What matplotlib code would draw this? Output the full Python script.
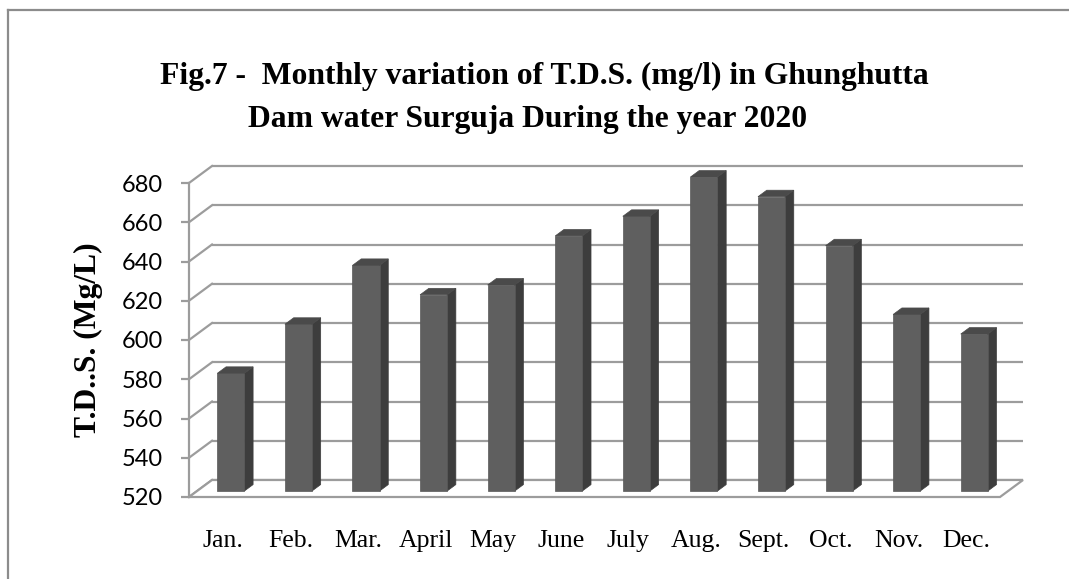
import matplotlib
matplotlib.use("Agg")
import matplotlib.pyplot as plt
from matplotlib.patches import Polygon
from matplotlib.lines import Line2D

# ---- data ----
months = ["Jan.", "Feb.", "Mar.", "April", "May", "June", "July", "Aug.",
          "Sept.", "Oct.", "Nov.", "Dec."]
tds = [580, 605, 635, 620, 625, 650, 660, 680, 670, 645, 610, 600]
yticks = [520, 540, 560, 580, 600, 620, 640, 660, 680]
title_line1 = "Fig.7 -  Monthly variation of T.D.S. (mg/l) in Ghunghutta"
title_line2 = "Dam water Surguja During the year 2020"
ylabel = "T.D..S. (Mg/L)"

W, H = 1069, 579
fig = plt.figure(figsize=(W / 100, H / 100), dpi=100)
fig.patch.set_facecolor("white")

# axes = front plane of the 3D box
ax_l, ax_r, ax_t, ax_b = 189, 1000, 183, 497
ax = fig.add_axes([ax_l / W, 1 - ax_b / H, (ax_r - ax_l) / W, (ax_b - ax_t) / H])
ymin, ymax = yticks[0], yticks[-1]
n = len(months)
ax.set_xlim(-0.5, n - 0.5)
ax.set_ylim(ymin, ymax)
ax.set_facecolor("none")

# depth vector (pixels) converted into data units
DXP, DYP = 23.0, 17.0
DX = DXP / ((ax_r - ax_l) / n)
DY = DYP / ((ax_b - ax_t) / (ymax - ymin))

grid_c = "#9c9c9c"
# back-wall gridlines and left-wall diagonals
for v in yticks:
    ax.plot([-0.5 + DX, n - 0.5 + DX], [v + DY, v + DY], color=grid_c, lw=1.6,
            clip_on=False, zorder=1, solid_capstyle="butt")
    ax.plot([-0.5, -0.5 + DX], [v, v + DY], color=grid_c, lw=1.6,
            clip_on=False, zorder=1)
# floor
floor = Polygon([(-0.5, ymin), (n - 0.5, ymin), (n - 0.5 + DX, ymin + DY),
                 (-0.5 + DX, ymin + DY)], closed=True, facecolor="white",
                edgecolor=grid_c, lw=1.6, clip_on=False, zorder=1.5)
ax.add_patch(floor)

# bars
f0, f1 = 0.35, 0.73
bw = 0.4
front_c, side_c, top_c = "#5f5f5f", "#3d3d3d", "#4a4a4a"
xs = [i + f0 * DX for i in range(n)]
base = ymin + f0 * DY
heights = [v - ymin for v in tds]
ax.bar(xs, heights, width=bw, bottom=base, color=front_c, edgecolor="#585858",
       lw=0.5, zorder=3, clip_on=False)
ddx, ddy = (f1 - f0) * DX, (f1 - f0) * DY
for x, v in zip(xs, tds):
    xl, xr = x - bw / 2, x + bw / 2
    t = v + f0 * DY
    side = Polygon([(xr, base), (xr + ddx, base + ddy), (xr + ddx, t + ddy), (xr, t)],
                   closed=True, facecolor=side_c, edgecolor=side_c, lw=0.5,
                   zorder=2.9, clip_on=False)
    top = Polygon([(xl, t), (xr, t), (xr + ddx, t + ddy), (xl + ddx, t + ddy)],
                  closed=True, facecolor=top_c, edgecolor=top_c, lw=0.5,
                  zorder=3.1, clip_on=False)
    ax.add_patch(side)
    ax.add_patch(top)

# axes styling
for s in ["top", "right", "bottom"]:
    ax.spines[s].set_visible(False)
ax.spines["left"].set_color(grid_c)
ax.spines["left"].set_linewidth(1.6)
ax.spines["left"].set_zorder(1)
ax.set_yticks(yticks)
ax.set_yticklabels([str(v) for v in yticks], fontfamily="Lato", fontsize=17)
ax.tick_params(axis="y", direction="out", length=6, width=1.6, color=grid_c, pad=13)
ax.set_xticks(range(n))
ax.set_xticklabels(months, fontfamily="Liberation Serif", fontsize=18.5)
ax.tick_params(axis="x", length=0, pad=24)

# titles
fig.text(544 / W, 1 - 84 / H, title_line1, ha="center", va="baseline",
         fontfamily="Liberation Serif", fontweight="bold", fontsize=22.8)
fig.text(527.5 / W, 1 - 127 / H, title_line2, ha="center", va="baseline",
         fontfamily="Liberation Serif", fontweight="bold", fontsize=22.8)
fig.text(88 / W, 1 - 340 / H, ylabel, ha="center", va="center", rotation=90,
         fontfamily="Liberation Serif", fontweight="bold", fontsize=22.8)

# outer frame
frame_c = "#8c8c8c"
fig.add_artist(Line2D([8 / W, 8 / W], [0, 1 - 10 / H], color=frame_c, lw=1.6))
fig.add_artist(Line2D([8 / W, 1], [1 - 10 / H, 1 - 10 / H], color=frame_c, lw=1.6))

fig.savefig("out.png", dpi=100, facecolor="white")
